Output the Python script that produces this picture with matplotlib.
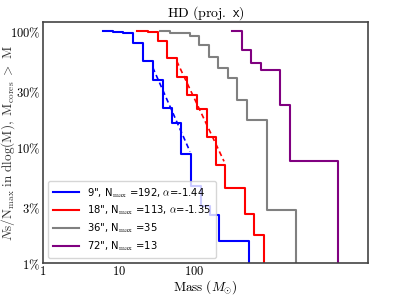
import matplotlib as ml
ml.use("Agg")
import matplotlib.pyplot as plt
import numpy

ml.rcParams.update({
    'mathtext.fontset': 'cm',
    'font.size': 9,
})

# step edges (mass in Msun) and number of cores above each edge
mass_9 = [6.29, 8.54, 11.6, 15.7, 21.3, 28.4, 38.5, 50.7, 67.9, 91.2, 124, 163, 216, 540]
count_9 = [192, 190, 185, 152, 106, 73, 42, 31, 17, 9, 6, 5, 3, 0]
nmax_9 = 192

mass_18 = [17.6, 24.6, 32.9, 43.9, 59.5, 80.8, 110, 149, 193, 261, 474, 633, 846]
count_18 = [113, 111, 94, 67, 46, 32, 24, 14, 8, 5, 3, 2, 0]
nmax_18 = 113

mass_36 = [35.5, 48.1, 87.2, 118, 158, 211, 282, 377, 508, 927, 2244]
count_36 = [35, 34, 32, 27, 21, 17, 14, 9, 6, 1, 0]
nmax_36 = 35

mass_72 = [316, 428, 569, 764, 1377, 1852, 8075]
count_72 = [13, 9, 7, 6, 3, 1, 0]
nmax_72 = 13

# power-law fits (end points)
fit_mass_9 = [28.4, 88.5]
fit_frac_9 = [0.49, 0.092]
fit_mass_18 = [59.0, 250.0]
fit_frac_18 = [0.556, 0.0758]

y_ticks = [0.01, 0.03, 0.1, 0.3, 1.0]
y_tick_labels = [r'$1\%$', r'$3\%$', r'$10\%$', r'$30\%$', r'$100\%$']
x_ticks = [1, 10, 100]
x_tick_labels = [r'$1$', r'$10$', r'$100$']

fig = plt.figure(figsize=(4.07, 2.95), dpi=100)
ax = fig.add_axes([0.1057, 0.1075, 0.7977, 0.8169])

series = [
    (mass_9, count_9, nmax_9, 'blue', '9", N$_{\\rm max}$ =192, $\\alpha$=-1.44'),
    (mass_18, count_18, nmax_18, 'red', '18", N$_{\\rm max}$ =113, $\\alpha$=-1.35'),
    (mass_36, count_36, nmax_36, 'gray', '36", N$_{\\rm max}$ =35'),
    (mass_72, count_72, nmax_72, 'purple', '72", N$_{\\rm max}$ =13'),
]
for mass, count, nmax, color, label in series:
    frac = numpy.array(count, dtype=float) / nmax
    ax.step(mass, frac, where='post', color=color, linewidth=1.5, label=label)

ax.plot(fit_mass_9, fit_frac_9, color='blue', linestyle='--', linewidth=1.2, dashes=(3, 2))
ax.plot(fit_mass_18, fit_frac_18, color='red', linestyle='--', linewidth=1.2, dashes=(3, 2))

ax.set_xscale('log')
ax.set_yscale('log', nonpositive='clip')
ax.set_xlim(1, 2e4)
ax.set_ylim(0.01, 1.2)
ax.set_xticks(x_ticks)
ax.set_xticklabels(x_tick_labels)
ax.set_yticks(y_ticks)
ax.set_yticklabels(y_tick_labels)
ax.minorticks_off()
ax.tick_params(which='both', length=0, labelsize=9, pad=2)
ax.tick_params(axis='x', pad=1.5)

for spine in ax.spines.values():
    spine.set_color('#444444')
    spine.set_linewidth(1.2)

ax.set_title(r'$\mathrm{HD\ (proj.\ }\mathsf{x}\mathrm{)}$', fontsize=10, pad=4)
ax.set_xlabel(r'$\mathrm{Mass}\ (M_{\odot})$', fontsize=9.5, labelpad=-0.3)
ax.set_ylabel(r'$N\mathrm{s/N_{max}\ in\ dlog(M),\ M_{cores}\ >\ M}$', fontsize=9.5, color='#333333')
ax.yaxis.set_label_coords(-0.08, 0.5)

ax.legend(loc='lower left', fontsize=7.2, handlelength=2.6, labelspacing=0.42,
          borderpad=0.5, handletextpad=0.8)

plt.savefig('out.png', dpi=100)
